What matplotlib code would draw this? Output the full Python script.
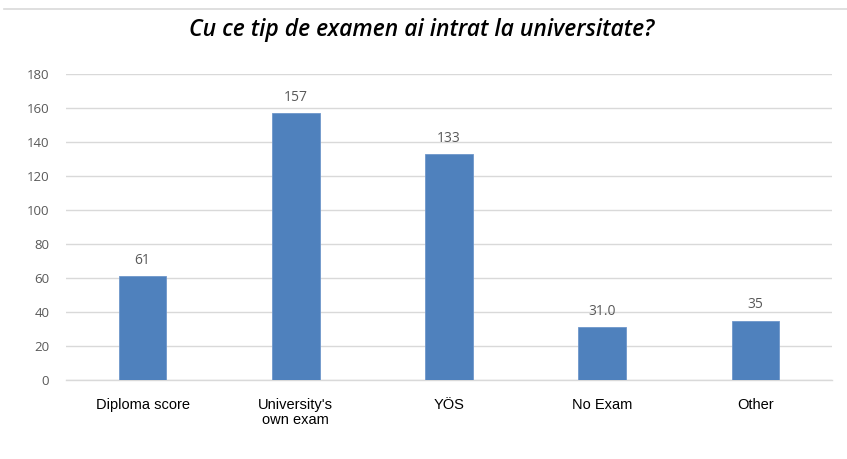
import matplotlib
matplotlib.use("Agg")
import matplotlib.pyplot as plt
from matplotlib.lines import Line2D

categories = ["Diploma score", "University's\nown exam", "YÖS", "No Exam", "Other"]
values = [61, 157, 133, 31, 35]
value_labels = ["61", "157", "133", "31.0", "35"]
yticks = [0, 20, 40, 60, 80, 100, 120, 140, 160, 180]

W, H = 847, 459
fig = plt.figure(figsize=(W/100, H/100), dpi=100)
ax = fig.add_axes([66/W, 1-380/H, (832-66)/W, (380-74)/H])

x = list(range(len(categories)))
bars = ax.bar(x, values, width=0.31, color="#4F81BD", edgecolor="#6F97CB", linewidth=0.6, zorder=3)
ax.set_xlim(-0.5, len(categories)-0.5)
ax.set_ylim(0, 180)
ax.set_yticks(yticks)
ax.grid(axis="y", color="#D9D9D9", linewidth=1, zorder=0)
for s in ["top", "right", "left"]:
    ax.spines[s].set_visible(False)
ax.spines["bottom"].set_color("#D9D9D9")
ax.spines["bottom"].set_linewidth(1)
ax.tick_params(axis="y", length=0, pad=12, labelsize=9.5, labelcolor="#595959")
ax.tick_params(axis="x", length=0, pad=13, labelsize=10.5, labelcolor="#000000")
ax.set_yticklabels([str(t) for t in yticks], family=["Open Sans", "DejaVu Sans"])
ax.set_xticks(x)
ax.set_xticklabels(categories, family=["Liberation Sans", "DejaVu Sans"], linespacing=1.1)

for xi, v, lab in zip(x, values, value_labels):
    ax.annotate(lab, (xi, v), xytext=(0, 6), textcoords="offset points",
                ha="center", va="bottom", fontsize=10, color="#595959",
                family=["Open Sans", "DejaVu Sans"], weight="medium")

fig.text(422/W, 1-30/H, "Cu ce tip de examen ai intrat la universitate?",
         ha="center", va="center", fontsize=16.5, style="italic", weight="semibold",
         family=["Open Sans", "DejaVu Sans"], color="#000000")

fig.add_artist(Line2D([4/W, 1], [1-9/H, 1-9/H], color="#D9D9D9", linewidth=1.2,
                      transform=fig.transFigure))

fig.savefig("out.png", dpi=100)
